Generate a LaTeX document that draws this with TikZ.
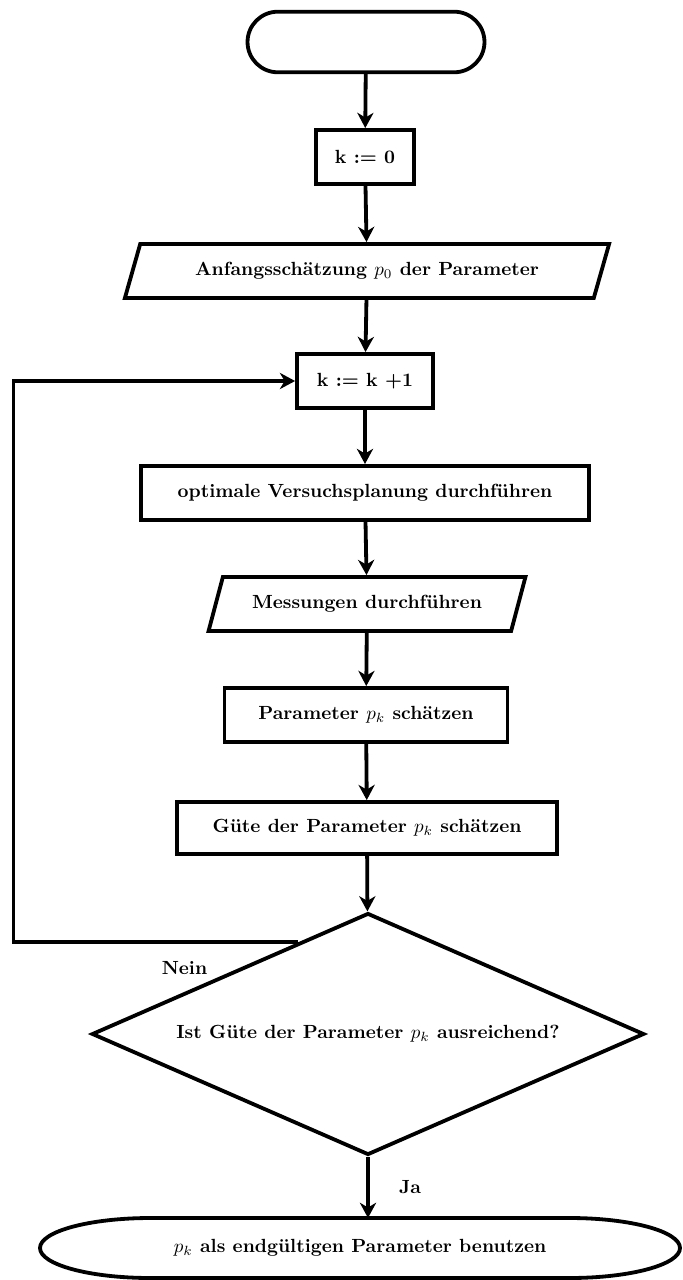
\documentclass[tikz,border=0pt]{standalone}
\usetikzlibrary{shapes.geometric,arrows.meta,calc}
\begin{document}
\begin{tikzpicture}[x=0.525pt,y=-0.525pt,
	every node/.style={font=\bfseries},
	line/.style={line width=2pt},
	arr/.style={line width=2pt,-{Stealth[length=8pt,width=8.5pt,inset=2.5pt]}},
	box/.style={draw,line width=2pt,minimum height=28.4pt},
	iobox/.style={draw,line width=2pt,trapezium,trapezium left angle=68,trapezium right angle=112,trapezium stretches=true,minimum height=28.4pt},
	term/.style={draw,line width=2pt,rounded corners=15.9pt,minimum width=124.4pt,minimum height=31.8pt},
	decision/.style={draw,line width=2pt,diamond,aspect=2.3,inner sep=0pt,minimum width=290pt,minimum height=127pt}]
		\useasboundingbox (0,0) rectangle (683,1280);
		\node[term] (start) at (366,42) {};
		\node[box,minimum width=51.5pt] (k0) at (365,157) {k := 0};
		\node[iobox,minimum width=255pt] (init) at (367,271) {Anfangsschätzung $p_0$ der Parameter};
		\node[box,minimum width=71.4pt] (kinc) at (365,381) {k := k +1};
		\node[box,minimum width=235pt] (plan) at (365,493) {optimale Versuchsplanung durchführen};
		\node[iobox,minimum width=166.4pt] (mess) at (367,604) {Messungen durchführen};
		\node[box,minimum width=148.6pt] (est) at (366,715) {Parameter $p_k$ schätzen};
		\node[box,minimum width=199.5pt,minimum height=27.3pt] (qual) at (367,828) {Güte der Parameter $p_k$ schätzen};
		\node[decision] (dec) at (368,1034) {Ist Güte der Parameter $p_k$ ausreichend?};
		\node[outer sep=0pt,minimum width=336pt,minimum height=31.5pt] (fin) at (360,1248) {$p_k$ als endgültigen Parameter benutzen};
		% end terminal with elliptic ends
		\draw[line] ([xshift=58pt]fin.north west) -- ([xshift=-58pt]fin.north east)
			arc[start angle=90,end angle=-90,x radius=58pt,y radius=15.75pt]
			-- ([xshift=58pt]fin.south west)
			arc[start angle=270,end angle=90,x radius=58pt,y radius=15.75pt] -- cycle;
		\draw[arr] (start) -- (k0);
		\draw[arr] (k0) -- (init);
		\draw[arr] (init) -- (kinc);
		\draw[arr] (kinc) -- (plan);
		\draw[arr] (plan) -- (mess);
		\draw[arr] (mess) -- (est);
		\draw[arr] (est) -- (qual);
		\draw[arr] (qual) -- (dec);
		\coordinate (back) at ($(dec.north)!0.25!(dec.west)$);
		\draw[arr] (back) -- node[below=6pt,pos=0.4]{Nein} ++(-285,0) |- (kinc);
		\draw[arr] (dec.south) -- node[midway,right=12pt]{Ja} (dec.south |- fin.north);
\end{tikzpicture}
\end{document}
